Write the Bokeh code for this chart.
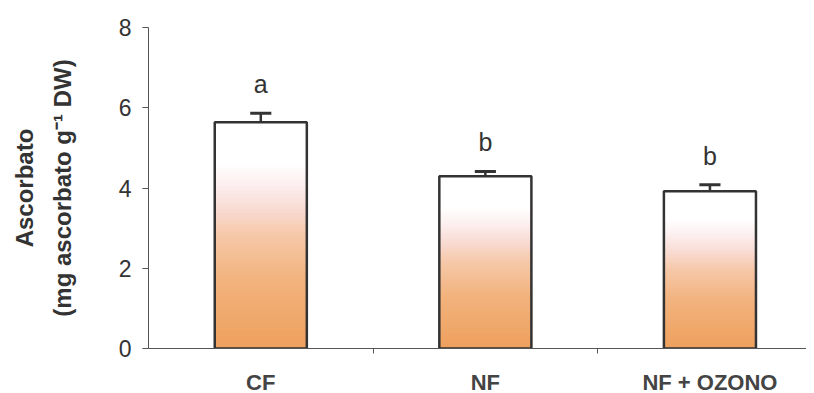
from bokeh.plotting import figure
from bokeh.models import FixedTicker, Range1d, ColumnDataSource, LinearAxis
from bokeh.core.properties import value
from bokeh.embed import file_html
from bokeh.resources import INLINE

categories = ["CF", "NF", "NF + OZONO"]
means = [5.64, 4.29, 3.92]
errors = [0.22, 0.12, 0.16]
letters = ["a", "b", "b"]
y_ticks = [0, 2, 4, 6, 8]

# gradient stops: (fraction of bar height from bottom, rgb)
stops = [(0.0, (238, 160, 94)), (0.3, (242, 178, 124)), (0.5, (246, 200, 168)),
         (0.62, (249, 220, 212)), (0.72, (252, 238, 238)), (0.82, (255, 255, 255)),
         (1.0, (255, 255, 255))]

def grad_color(f):
    for (f0, c0), (f1, c1) in zip(stops[:-1], stops[1:]):
        if f0 <= f <= f1:
            t = (f - f0) / (f1 - f0) if f1 > f0 else 0
            c = [round(a + (b - a) * t) for a, b in zip(c0, c1)]
            return "#%02x%02x%02x" % tuple(c)
    return "#ffffff"

xs = [i + 0.5 for i in range(len(categories))]
bar_w = 0.41
N = 60

p = figure(width=806, height=388, output_backend="svg", toolbar_location=None,
           x_range=Range1d(0, 2.93), y_range=Range1d(0, 8),
           min_border_left=148, min_border_right=0, min_border_top=27, min_border_bottom=0)
p.frame_height = 321
p.frame_width = 658
p.outline_line_color = None
p.xgrid.visible = False
p.ygrid.visible = False
p.background_fill_color = "white"

# gradient fill
L, R, B, T, C = [], [], [], [], []
for x, m in zip(xs, means):
    for i in range(N):
        L.append(x - bar_w / 2); R.append(x + bar_w / 2)
        B.append(m * i / N); T.append(min(m, m * (i + 1.8) / N))
        C.append(grad_color((i + 0.5) / N))
p.quad(left=L, right=R, bottom=B, top=T, fill_color=C, line_color=None)

# bar outlines
p.vbar(x=xs, top=means, width=bar_w, bottom=0, fill_color=None,
       line_color="#333333", line_width=2.5)

# error bars
tops = [m + e for m, e in zip(means, errors)]
p.segment(x0=xs, y0=means, x1=xs, y1=tops, line_color="#333333", line_width=2.5)
cap = 0.094
p.segment(x0=[x - cap / 2 for x in xs], y0=tops, x1=[x + cap / 2 for x in xs], y1=tops,
          line_color="#333333", line_width=3)

# significance letters
src = ColumnDataSource(dict(x=xs, y=[t + 0.38 for t in tops], t=letters))
p.text(x="x", y="y", text="t", source=src, text_align="center", text_baseline="bottom",
       text_font_size="25px", text_color="#333333", text_font=value("Liberation Sans"))

# x axis
p.xaxis.ticker = FixedTicker(ticks=xs, minor_ticks=[1, 2])
p.xaxis.major_label_overrides = {x: c for x, c in zip(xs, categories)}
p.xaxis.major_tick_line_color = None
p.xaxis.major_tick_out = 0
p.xaxis.major_tick_in = 0
p.xaxis.minor_tick_out = 5
p.xaxis.minor_tick_in = 0
p.xaxis.minor_tick_line_color = "#555555"
p.xaxis.axis_line_color = "#555555"
p.xaxis.axis_line_width = 1
p.xaxis.major_label_text_font = "Liberation Sans"
p.xaxis.major_label_text_font_style = "bold"
p.xaxis.major_label_text_font_size = "22px"
p.xaxis.major_label_text_color = "#444444"
p.xaxis.major_label_standoff = 16

# y axis
p.yaxis.ticker = FixedTicker(ticks=y_ticks)
p.yaxis.minor_tick_line_color = None
p.yaxis.major_tick_out = 6
p.yaxis.major_tick_in = 0
p.yaxis.major_tick_line_color = "#555555"
p.yaxis.axis_line_color = "#555555"
p.yaxis.major_label_text_font = "Liberation Sans"
p.yaxis.major_label_text_font_size = "23px"
p.yaxis.major_label_text_color = "#333333"
p.yaxis.major_label_standoff = 11
p.yaxis.axis_label = "(mg ascorbato g\u207b\u00b9 DW)"
p.yaxis.axis_label_text_font = "Liberation Sans"
p.yaxis.axis_label_text_font_style = "bold"
p.yaxis.axis_label_text_font_size = "24px"
p.yaxis.axis_label_text_color = "#333333"
p.yaxis.axis_label_standoff = 40

# outer title line
outer = LinearAxis(ticker=FixedTicker(ticks=[]), axis_line_color=None,
                   major_tick_line_color=None, minor_tick_line_color=None,
                   axis_label="Ascorbato", axis_label_text_font="Liberation Sans",
                   axis_label_text_font_style="bold", axis_label_text_font_size="24px",
                   axis_label_text_color="#333333", axis_label_standoff=8)
p.add_layout(outer, "left")

open("out.html", "w").write(file_html(p, INLINE))
